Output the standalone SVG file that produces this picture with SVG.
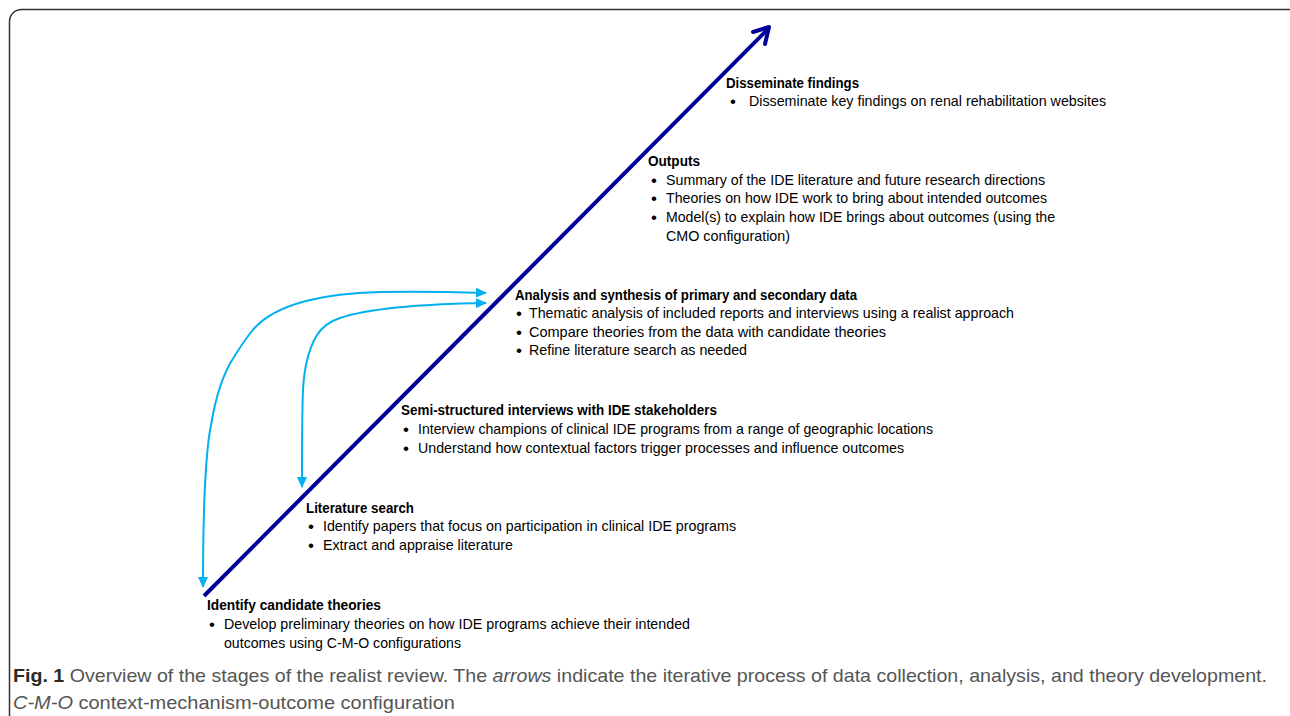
<svg xmlns="http://www.w3.org/2000/svg" width="1290" height="716" viewBox="0 0 1290 716">
<style>
.t{font-family:"Liberation Sans",Arial,sans-serif;font-size:14.5px;fill:#000}
.h{font-family:"Liberation Sans",Arial,sans-serif;font-size:14.5px;font-weight:bold;fill:#000}
.b{font-family:"Liberation Sans",Arial,sans-serif;font-size:17px;fill:#000}
.cap{font-family:"Liberation Sans",Arial,sans-serif;font-size:19px;fill:#555}
.fb{font-weight:bold;fill:#2a2a2a}
.it{font-style:italic}
.blue{fill:none;stroke:#00B0F0;stroke-width:2}
</style>
<defs>
<marker id="ab" markerWidth="12" markerHeight="10" refX="10" refY="5" orient="auto" markerUnits="userSpaceOnUse">
<path d="M0,0 L11,5 L0,10 Z" fill="#00B0F0"/>
</marker>
<marker id="as" markerWidth="12" markerHeight="10" refX="10" refY="5" orient="auto-start-reverse" markerUnits="userSpaceOnUse">
<path d="M0,0 L11,5 L0,10 Z" fill="#00B0F0"/>
</marker>
</defs>
<rect x="9.5" y="9.5" width="1300" height="800" rx="12" fill="#fff" stroke="#333" stroke-width="1.5"/>
<g id="connectors">
<line x1="204" y1="596" x2="768" y2="29" stroke="#000099" stroke-width="4"/>
<path d="M753,32 L769,27 L765,44" fill="none" stroke="#000099" stroke-width="4" stroke-linecap="round" stroke-linejoin="round"/>
<path class="blue" marker-start="url(#as)" marker-end="url(#ab)" d="M203,587 C203,520 205,455 211,425 C216,395 224,372 234,357 C242,344 248,336 252,331 C275,302 330,293 380,292 C420,291 455,292 486,293"/>
<path class="blue" marker-start="url(#as)" marker-end="url(#ab)" d="M302,487 C302,450 302,410 303,390 C304,370 308,350 317,335 C322,327 328,322 340,318 C370,308 420,304 486,303"/>
</g>
<g id="node-disseminate">
<text class="h" x="726" y="88" textLength="133" lengthAdjust="spacingAndGlyphs">Disseminate findings</text>
<text class="b" x="730" y="107">•</text>
<text class="t" x="749" y="106" textLength="357" lengthAdjust="spacingAndGlyphs">Disseminate key findings on renal rehabilitation websites</text>
</g>
<g id="node-outputs">
<text class="h" x="648" y="166" textLength="52" lengthAdjust="spacingAndGlyphs">Outputs</text>
<text class="b" x="651" y="186">•</text>
<text class="t" x="666" y="185" textLength="379" lengthAdjust="spacingAndGlyphs">Summary of the IDE literature and future research directions</text>
<text class="b" x="651" y="204">•</text>
<text class="t" x="666" y="203" textLength="381" lengthAdjust="spacingAndGlyphs">Theories on how IDE work to bring about intended outcomes</text>
<text class="b" x="651" y="223">•</text>
<text class="t" x="666" y="222" textLength="389" lengthAdjust="spacingAndGlyphs">Model(s) to explain how IDE brings about outcomes (using the</text>
<text class="t" x="666" y="241" textLength="124" lengthAdjust="spacingAndGlyphs">CMO configuration)</text>
</g>
<g id="node-analysis">
<text class="h" x="515" y="300" textLength="342" lengthAdjust="spacingAndGlyphs">Analysis and synthesis of primary and secondary data</text>
<text class="b" x="516" y="319">•</text>
<text class="t" x="529" y="318" textLength="485" lengthAdjust="spacingAndGlyphs">Thematic analysis of included reports and interviews using a realist approach</text>
<text class="b" x="516" y="338">•</text>
<text class="t" x="529" y="337" textLength="357" lengthAdjust="spacingAndGlyphs">Compare theories from the data with candidate theories</text>
<text class="b" x="516" y="356">•</text>
<text class="t" x="529" y="355" textLength="218" lengthAdjust="spacingAndGlyphs">Refine literature search as needed</text>
</g>
<g id="node-interviews">
<text class="h" x="401" y="415" textLength="316" lengthAdjust="spacingAndGlyphs">Semi-structured interviews with IDE stakeholders</text>
<text class="b" x="403" y="435">•</text>
<text class="t" x="418" y="434" textLength="515" lengthAdjust="spacingAndGlyphs">Interview champions of clinical IDE programs from a range of geographic locations</text>
<text class="b" x="403" y="454">•</text>
<text class="t" x="418" y="453" textLength="486" lengthAdjust="spacingAndGlyphs">Understand how contextual factors trigger processes and influence outcomes</text>
</g>
<g id="node-literature">
<text class="h" x="306" y="513" textLength="108" lengthAdjust="spacingAndGlyphs">Literature search</text>
<text class="b" x="308" y="532">•</text>
<text class="t" x="323" y="531" textLength="413" lengthAdjust="spacingAndGlyphs">Identify papers that focus on participation in clinical IDE programs</text>
<text class="b" x="308" y="551">•</text>
<text class="t" x="323" y="550" textLength="190" lengthAdjust="spacingAndGlyphs">Extract and appraise literature</text>
</g>
<g id="node-candidate">
<text class="h" x="207" y="610" textLength="174" lengthAdjust="spacingAndGlyphs">Identify candidate theories</text>
<text class="b" x="209" y="630">•</text>
<text class="t" x="224" y="629" textLength="466" lengthAdjust="spacingAndGlyphs">Develop preliminary theories on how IDE programs achieve their intended</text>
<text class="t" x="224" y="648" textLength="237" lengthAdjust="spacingAndGlyphs">outcomes using C-M-O configurations</text>
</g>
<g id="caption">
<text class="cap" x="13" y="682" textLength="1254" lengthAdjust="spacingAndGlyphs"><tspan class="fb">Fig. 1</tspan> Overview of the stages of the realist review. The <tspan class="it">arrows</tspan> indicate the iterative process of data collection, analysis, and theory development.</text>
<text class="cap" x="13" y="709" textLength="442" lengthAdjust="spacingAndGlyphs"><tspan class="it">C-M-O</tspan> context-mechanism-outcome configuration</text>
</g>
</svg>
